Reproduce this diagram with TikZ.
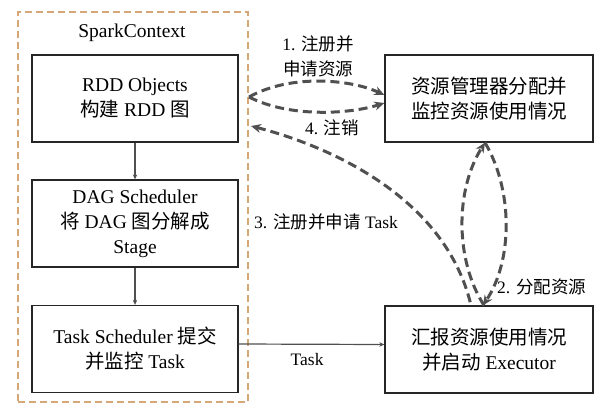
\documentclass[tikz,border=0pt]{standalone}
\usepackage{fontspec}
\setmainfont{Liberation Serif}
\newfontfamily\cjk{Noto Sans CJK SC}
\newcommand\zh[1]{{\cjk #1}}
\usetikzlibrary{arrows.meta}
\definecolor{frameTan}{RGB}{214,168,120}
\definecolor{lineGray}{RGB}{80,80,80}
\tikzset{
  procbox/.style={draw=black!85, line width=1.3pt, minimum width=206pt,
    minimum height=87pt, inner sep=0pt, align=center,
    font=\fontsize{19.5}{25}\selectfont},
  framebox/.style={draw=frameTan, line width=2pt, dash pattern=on 7pt off 4pt,
    minimum width=230pt, minimum height=390pt, inner sep=0pt},
  flow/.style={draw=lineGray, line width=1.2pt,
    -{Stealth[length=5pt,width=4.5pt]}},
  msg/.style={draw=lineGray, line width=3pt, dash pattern=on 9pt off 5pt,
    -{Stealth[length=10pt,width=9pt]}},
  msgback/.style={draw=lineGray, line width=3pt, dash pattern=on 9pt off 5pt,
    {Stealth[length=10pt,width=9pt]}-},
  lbl/.style={inner sep=0pt, align=center, font=\fontsize{17.5}{25}\selectfont}
}
\begin{document}
\begin{tikzpicture}[x=1pt, y=-1pt]
  \useasboundingbox (0,0) rectangle (608,407);

  % driver side
  \node[framebox] (spark) at (133,207) {};
  \node[inner sep=0pt, font=\fontsize{19.5}{25}\selectfont] (sctitle) at (132,33) {SparkContext};
  \node[procbox] (rdd) at (135,98.5) {RDD Objects\\\zh{构建} RDD \zh{图}};
  \node[procbox] (dag) at (135,223.5) {DAG Scheduler\\\zh{将} DAG \zh{图分解成}\\Stage};
  \node[procbox] (task) at (135,349) {Task Scheduler \zh{提交}\\\zh{并监控} Task};

  % cluster side
  \node[procbox, minimum width=208pt] (mgr) at (489,98.5) {\zh{资源管理器分配并}\\\zh{监控资源使用情况}};
  \node[procbox, minimum width=208pt] (exec) at (489,349.5) {\zh{汇报资源使用情况}\\\zh{并启动} Executor};

  % internal flow
  \draw[flow] (rdd) -- (dag);
  \draw[flow] (dag) -- (task);
  \draw[flow] ([yshift=5pt]task.east) -- ([yshift=5pt]exec.west)
    node[lbl, pos=0.47, below=9pt] (tasklbl) {Task};

  % messages between driver and cluster
  \coordinate (scport) at (249,97);
  \coordinate (scin) at (251,126);
  \draw[msg] (scport) .. controls (290,74) and (350,79) .. ([yshift=3.5pt]mgr.west);
  \draw[msg] (scport) .. controls (290,118) and (350,114) .. ([yshift=-4.5pt]mgr.west);
  \draw[msgback] (scin) .. controls (325,145) and (445,195) .. ([xshift=-18pt]exec.north);
  \draw[msg] ([xshift=-5pt]exec.north) .. controls (455,260) and (455,190) .. ([xshift=-4pt]mgr.south);
  \draw[msg] ([xshift=-4pt]mgr.south) .. controls (513,190) and (513,260) .. ([xshift=-6pt]exec.north);

  % message labels
  \node[lbl] (m1) at (318,56) {1. \zh{注册并}\\\zh{申请资源}};
  \node[lbl] (m4) at (332,128) {4. \zh{注销}};
  \node[lbl, anchor=west] (m3) at (254,222) {3. \zh{注册并申请} Task};
  \node[lbl, anchor=west] (m2) at (497,287) {2. \zh{分配资源}};
\end{tikzpicture}
\end{document}
